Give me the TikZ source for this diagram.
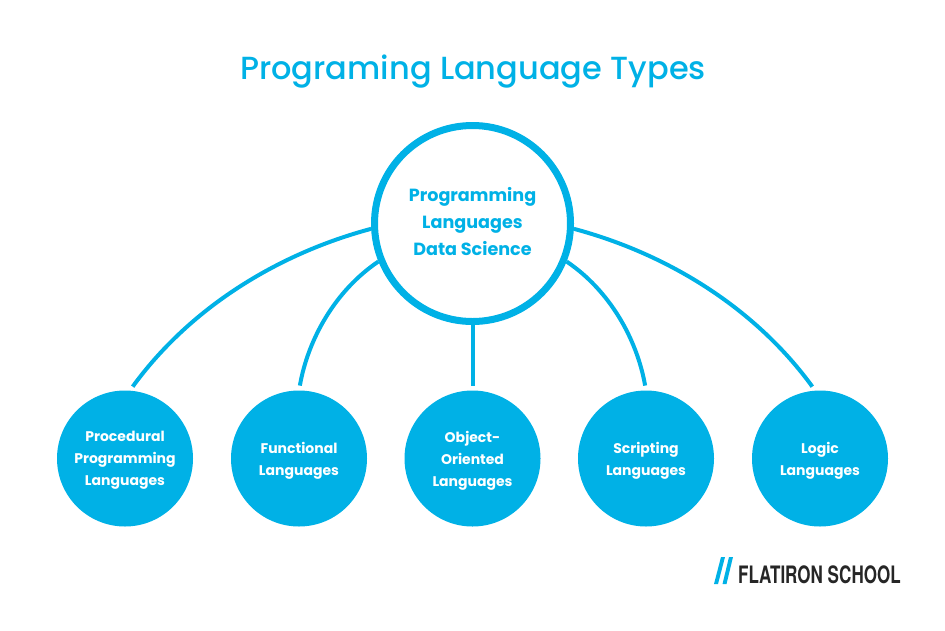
\documentclass[tikz,border=0pt]{standalone}
\usepackage{tikz}
\usepackage{xcolor}
\usepackage{fontspec}
\setmainfont{Poppins}
\newfontfamily\titlefont{Poppins Medium}
\newfontfamily\logofont{TeX Gyre Heros}
\definecolor{flatblue}{HTML}{00B1E6}
\tikzset{
  main/.style={circle, draw=flatblue, line width=7pt, fill=white, minimum size=196pt, inner sep=0pt, align=center, text=flatblue, text depth=4pt, font=\bfseries\fontsize{17.6}{27}\selectfont},
  lang/.style={circle, fill=flatblue, minimum size=136pt, inner sep=0pt, outer sep=0pt, align=center, text=white, text depth=-3pt, font=\bfseries\fontsize{14}{22}\selectfont},
  link/.style={draw=flatblue, line width=4pt, shorten >=5pt, looseness=0.88},
}

\begin{document}
\begin{tikzpicture}[x=1pt, y=-1pt]
  \useasboundingbox (0,0) rectangle (945,630);

  % Title
  \node[text=flatblue, font=\titlefont\fontsize{32}{40}\selectfont] (title) at (473,72) {Programing Language Types};

  % Center and the five types
  \node[main] (center) at (472.5,223.5) {Programming\\Languages\\Data Science};
  \node[lang] (proc) at (125,458.5) {Procedural\\Programming\\Languages};
  \node[lang] (func) at (299,458.5) {Functional\\Languages};
  \node[lang] (obj) at (472.5,458.5) {Object-\\Oriented\\Languages};
  \node[lang] (script) at (646,458.5) {Scripting\\Languages};
  \node[lang] (logic) at (820,458.5) {Logic\\Languages};

  % Connectors
  \draw[link] (center.183) to[out=-165, in=54] (proc.86);
  \draw[link] (center.202) to[out=-146, in=80] (func.90);
  \draw[link] (center.south) -- (obj.north);
  \draw[link] (center.-22) to[out=-34, in=100] (script.90);
  \draw[link] (center.-3) to[out=-15, in=126] (logic.94);

  % Logo
  \fill[flatblue] (714,584) -- (718,584) -- (725,557) -- (721,557) -- cycle;
  \fill[flatblue] (722.5,584) -- (726.5,584) -- (733,557) -- (729,557) -- cycle;
  \node[anchor=west, inner sep=0pt, xscale=0.71, text=black!85, font=\logofont\bfseries\fontsize{24}{24}\selectfont] (logo) at (738,574.5) {FLATIRON SCHOOL};
\end{tikzpicture}
\end{document}
